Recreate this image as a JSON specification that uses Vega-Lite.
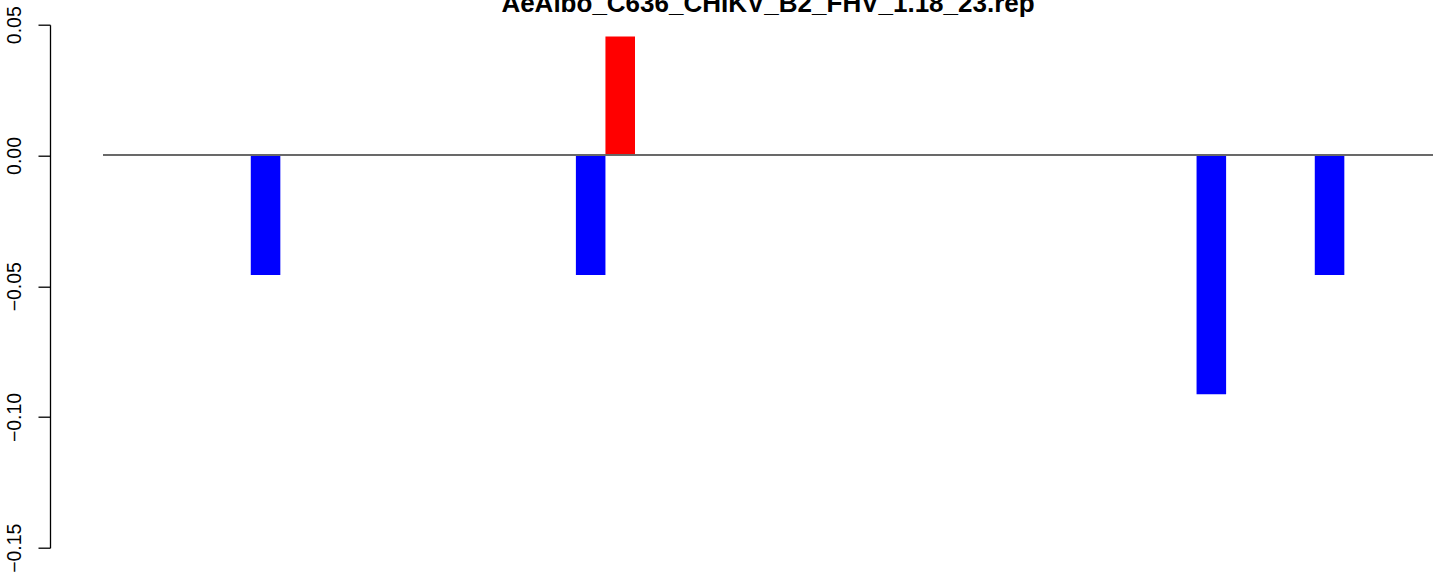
{
  "$schema": "https://vega.github.io/schema/vega-lite/v6.json",
  "width": 1330,
  "height": 523,
  "autosize": {"type": "none"},
  "padding": {"left": 103, "top": 24.7, "right": 11, "bottom": 33.3},
  "background": "white",
  "config": {"view": {"stroke": null}, "font": "Liberation Sans"},
  "title": {
    "text": "AeAlbo_C636_CHIKV_B2_FHV_1.18_23.rep",
    "font": "Liberation Sans",
    "fontWeight": "bold",
    "fontSize": 26,
    "color": "black",
    "anchor": "middle",
    "frame": "group",
    "baseline": "alphabetic",
    "offset": -32.5
  },
  "data": {
    "values": [
      {"bar": 1, "value": 0}, {"bar": 2, "value": 0}, {"bar": 3, "value": 0}, {"bar": 4, "value": 0}, {"bar": 5, "value": 0},
      {"bar": 6, "value": -0.0457}, {"bar": 7, "value": 0}, {"bar": 8, "value": 0}, {"bar": 9, "value": 0}, {"bar": 10, "value": 0},
      {"bar": 11, "value": 0}, {"bar": 12, "value": 0}, {"bar": 13, "value": 0}, {"bar": 14, "value": 0}, {"bar": 15, "value": 0},
      {"bar": 16, "value": 0}, {"bar": 17, "value": -0.0457}, {"bar": 18, "value": 0.0455}, {"bar": 19, "value": 0}, {"bar": 20, "value": 0},
      {"bar": 21, "value": 0}, {"bar": 22, "value": 0}, {"bar": 23, "value": 0}, {"bar": 24, "value": 0}, {"bar": 25, "value": 0},
      {"bar": 26, "value": 0}, {"bar": 27, "value": 0}, {"bar": 28, "value": 0}, {"bar": 29, "value": 0}, {"bar": 30, "value": 0},
      {"bar": 31, "value": 0}, {"bar": 32, "value": 0}, {"bar": 33, "value": 0}, {"bar": 34, "value": 0}, {"bar": 35, "value": 0},
      {"bar": 36, "value": 0}, {"bar": 37, "value": 0}, {"bar": 38, "value": -0.0913}, {"bar": 39, "value": 0}, {"bar": 40, "value": 0},
      {"bar": 41, "value": 0}, {"bar": 42, "value": -0.0457}, {"bar": 43, "value": 0}, {"bar": 44, "value": 0}, {"bar": 45, "value": 0}
    ]
  },
  "layer": [
    {
      "mark": {"type": "bar", "clip": true},
      "encoding": {
        "x": {
          "field": "bar",
          "type": "ordinal",
          "axis": null,
          "scale": {"paddingInner": 0, "paddingOuter": 0}
        },
        "y": {
          "field": "value",
          "type": "quantitative",
          "scale": {"domain": [-0.15, 0.05], "nice": false, "zero": false},
          "axis": {
            "title": null,
            "grid": false,
            "values": [-0.15, -0.1, -0.05, 0, 0.05],
            "format": ".2f",
            "offset": 53,
            "domainColor": "black",
            "domainWidth": 1.3,
            "tickColor": "black",
            "tickWidth": 1.3,
            "tickSize": 12,
            "labelAngle": -90,
            "labelAlign": "center",
            "labelBaseline": "alphabetic",
            "labelPadding": 18,
            "labelFont": "Liberation Sans",
            "labelFontSize": 19.5,
            "labelColor": "black",
            "labelOverlap": false,
            "labelFlush": false
          }
        },
        "color": {
          "condition": {"test": "datum.value > 0", "value": "#FF0000"},
          "value": "#0000FF"
        }
      }
    },
    {
      "mark": {"type": "rule", "color": "#6a6a6a", "strokeWidth": 1.3},
      "encoding": {"y": {"datum": 0, "type": "quantitative"}}
    }
  ]
}
